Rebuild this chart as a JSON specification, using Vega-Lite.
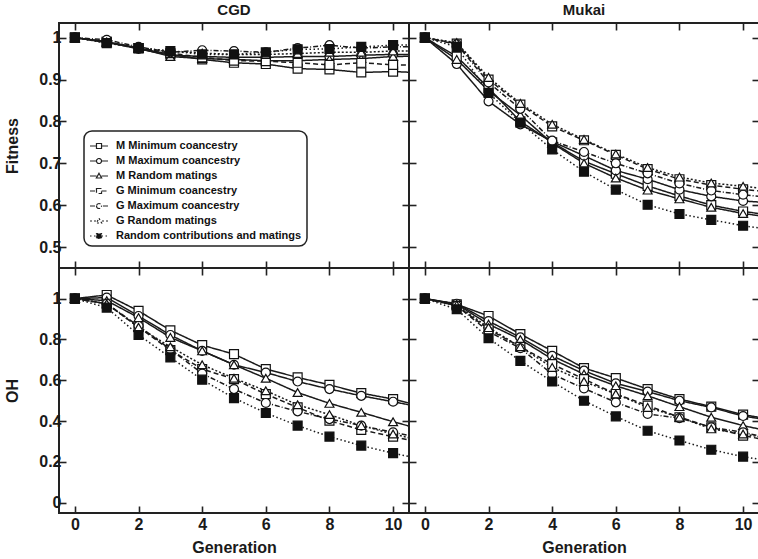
{
"$schema": "https://vega.github.io/schema/vega-lite/v6.json",
"padding": {"left": 3, "top": 2, "right": 0, "bottom": 0},
"spacing": 0,
"bounds": "flush",
"columns": 2,
"config": {
  "font": "Liberation Sans",
  "view": {"stroke": "#222", "strokeWidth": 2},
  "concat": {"spacing": 0},
  "axis": {"domain": false, "grid": false, "tickSize": -7, "tickWidth": 1.6, "tickColor": "#222", "labelFont": "Liberation Sans", "labelFontSize": 16, "labelFontWeight": "bold", "labelColor": "#1a1a1a", "titleFont": "Liberation Sans", "titleFontSize": 16, "titleFontWeight": "bold", "titleColor": "#1a1a1a", "labelPadding": 5, "minExtent": 0},
  "axisY": {"titlePadding": 18}
},
"datasets": {
"cgdF": [
{"s":"M Minimum coancestry","g":0,"v":1},{"s":"M Minimum coancestry","g":1,"v":0.990},{"s":"M Minimum coancestry","g":2,"v":0.975},{"s":"M Minimum coancestry","g":3,"v":0.960},{"s":"M Minimum coancestry","g":4,"v":0.948},{"s":"M Minimum coancestry","g":5,"v":0.940},{"s":"M Minimum coancestry","g":6,"v":0.937},{"s":"M Minimum coancestry","g":7,"v":0.926},{"s":"M Minimum coancestry","g":8,"v":0.924},{"s":"M Minimum coancestry","g":9,"v":0.917},{"s":"M Minimum coancestry","g":10,"v":0.919},{"s":"M Minimum coancestry","g":11,"v":0.916},
{"s":"M Maximum coancestry","g":0,"v":1},{"s":"M Maximum coancestry","g":1,"v":0.990},{"s":"M Maximum coancestry","g":2,"v":0.973},{"s":"M Maximum coancestry","g":3,"v":0.958},{"s":"M Maximum coancestry","g":4,"v":0.955},{"s":"M Maximum coancestry","g":5,"v":0.953},{"s":"M Maximum coancestry","g":6,"v":0.953},{"s":"M Maximum coancestry","g":7,"v":0.955},{"s":"M Maximum coancestry","g":8,"v":0.955},{"s":"M Maximum coancestry","g":9,"v":0.958},{"s":"M Maximum coancestry","g":10,"v":0.960},{"s":"M Maximum coancestry","g":11,"v":0.960},
{"s":"M Random matings","g":0,"v":1},{"s":"M Random matings","g":1,"v":0.988},{"s":"M Random matings","g":2,"v":0.975},{"s":"M Random matings","g":3,"v":0.955},{"s":"M Random matings","g":4,"v":0.950},{"s":"M Random matings","g":5,"v":0.948},{"s":"M Random matings","g":6,"v":0.945},{"s":"M Random matings","g":7,"v":0.945},{"s":"M Random matings","g":8,"v":0.948},{"s":"M Random matings","g":9,"v":0.950},{"s":"M Random matings","g":10,"v":0.955},{"s":"M Random matings","g":11,"v":0.956},
{"s":"G Minimum coancestry","g":0,"v":1},{"s":"G Minimum coancestry","g":1,"v":0.990},{"s":"G Minimum coancestry","g":2,"v":0.975},{"s":"G Minimum coancestry","g":3,"v":0.963},{"s":"G Minimum coancestry","g":4,"v":0.953},{"s":"G Minimum coancestry","g":5,"v":0.945},{"s":"G Minimum coancestry","g":6,"v":0.944},{"s":"G Minimum coancestry","g":7,"v":0.940},{"s":"G Minimum coancestry","g":8,"v":0.935},{"s":"G Minimum coancestry","g":9,"v":0.940},{"s":"G Minimum coancestry","g":10,"v":0.935},{"s":"G Minimum coancestry","g":11,"v":0.934},
{"s":"G Maximum coancestry","g":0,"v":1},{"s":"G Maximum coancestry","g":1,"v":0.995},{"s":"G Maximum coancestry","g":2,"v":0.978},{"s":"G Maximum coancestry","g":3,"v":0.965},{"s":"G Maximum coancestry","g":4,"v":0.970},{"s":"G Maximum coancestry","g":5,"v":0.968},{"s":"G Maximum coancestry","g":6,"v":0.965},{"s":"G Maximum coancestry","g":7,"v":0.975},{"s":"G Maximum coancestry","g":8,"v":0.982},{"s":"G Maximum coancestry","g":9,"v":0.975},{"s":"G Maximum coancestry","g":10,"v":0.978},{"s":"G Maximum coancestry","g":11,"v":0.978},
{"s":"G Random matings","g":0,"v":1},{"s":"G Random matings","g":1,"v":0.990},{"s":"G Random matings","g":2,"v":0.975},{"s":"G Random matings","g":3,"v":0.968},{"s":"G Random matings","g":4,"v":0.963},{"s":"G Random matings","g":5,"v":0.960},{"s":"G Random matings","g":6,"v":0.960},{"s":"G Random matings","g":7,"v":0.962},{"s":"G Random matings","g":8,"v":0.965},{"s":"G Random matings","g":9,"v":0.965},{"s":"G Random matings","g":10,"v":0.968},{"s":"G Random matings","g":11,"v":0.968},
{"s":"Random contributions and matings","g":0,"v":1},{"s":"Random contributions and matings","g":1,"v":0.987},{"s":"Random contributions and matings","g":2,"v":0.975},{"s":"Random contributions and matings","g":3,"v":0.968},{"s":"Random contributions and matings","g":4,"v":0.960},{"s":"Random contributions and matings","g":5,"v":0.960},{"s":"Random contributions and matings","g":6,"v":0.965},{"s":"Random contributions and matings","g":7,"v":0.972},{"s":"Random contributions and matings","g":8,"v":0.973},{"s":"Random contributions and matings","g":9,"v":0.978},{"s":"Random contributions and matings","g":10,"v":0.982},{"s":"Random contributions and matings","g":11,"v":0.983}
],
"mukF": [
{"s":"M Minimum coancestry","g":0,"v":1},{"s":"M Minimum coancestry","g":1,"v":0.955},{"s":"M Minimum coancestry","g":2,"v":0.880},{"s":"M Minimum coancestry","g":3,"v":0.800},{"s":"M Minimum coancestry","g":4,"v":0.750},{"s":"M Minimum coancestry","g":5,"v":0.705},{"s":"M Minimum coancestry","g":6,"v":0.675},{"s":"M Minimum coancestry","g":7,"v":0.646},{"s":"M Minimum coancestry","g":8,"v":0.622},{"s":"M Minimum coancestry","g":9,"v":0.600},{"s":"M Minimum coancestry","g":10,"v":0.585},{"s":"M Minimum coancestry","g":11,"v":0.575},
{"s":"M Maximum coancestry","g":0,"v":1},{"s":"M Maximum coancestry","g":1,"v":0.937},{"s":"M Maximum coancestry","g":2,"v":0.848},{"s":"M Maximum coancestry","g":3,"v":0.793},{"s":"M Maximum coancestry","g":4,"v":0.752},{"s":"M Maximum coancestry","g":5,"v":0.718},{"s":"M Maximum coancestry","g":6,"v":0.683},{"s":"M Maximum coancestry","g":7,"v":0.662},{"s":"M Maximum coancestry","g":8,"v":0.637},{"s":"M Maximum coancestry","g":9,"v":0.621},{"s":"M Maximum coancestry","g":10,"v":0.610},{"s":"M Maximum coancestry","g":11,"v":0.605},
{"s":"M Random matings","g":0,"v":1},{"s":"M Random matings","g":1,"v":0.948},{"s":"M Random matings","g":2,"v":0.873},{"s":"M Random matings","g":3,"v":0.815},{"s":"M Random matings","g":4,"v":0.748},{"s":"M Random matings","g":5,"v":0.700},{"s":"M Random matings","g":6,"v":0.665},{"s":"M Random matings","g":7,"v":0.636},{"s":"M Random matings","g":8,"v":0.615},{"s":"M Random matings","g":9,"v":0.595},{"s":"M Random matings","g":10,"v":0.580},{"s":"M Random matings","g":11,"v":0.570},
{"s":"G Minimum coancestry","g":0,"v":1},{"s":"G Minimum coancestry","g":1,"v":0.986},{"s":"G Minimum coancestry","g":2,"v":0.900},{"s":"G Minimum coancestry","g":3,"v":0.840},{"s":"G Minimum coancestry","g":4,"v":0.788},{"s":"G Minimum coancestry","g":5,"v":0.755},{"s":"G Minimum coancestry","g":6,"v":0.720},{"s":"G Minimum coancestry","g":7,"v":0.686},{"s":"G Minimum coancestry","g":8,"v":0.662},{"s":"G Minimum coancestry","g":9,"v":0.648},{"s":"G Minimum coancestry","g":10,"v":0.638},{"s":"G Minimum coancestry","g":11,"v":0.630},
{"s":"G Maximum coancestry","g":0,"v":1},{"s":"G Maximum coancestry","g":1,"v":0.984},{"s":"G Maximum coancestry","g":2,"v":0.893},{"s":"G Maximum coancestry","g":3,"v":0.830},{"s":"G Maximum coancestry","g":4,"v":0.754},{"s":"G Maximum coancestry","g":5,"v":0.727},{"s":"G Maximum coancestry","g":6,"v":0.700},{"s":"G Maximum coancestry","g":7,"v":0.676},{"s":"G Maximum coancestry","g":8,"v":0.652},{"s":"G Maximum coancestry","g":9,"v":0.635},{"s":"G Maximum coancestry","g":10,"v":0.625},{"s":"G Maximum coancestry","g":11,"v":0.617},
{"s":"G Random matings","g":0,"v":1},{"s":"G Random matings","g":1,"v":0.988},{"s":"G Random matings","g":2,"v":0.905},{"s":"G Random matings","g":3,"v":0.843},{"s":"G Random matings","g":4,"v":0.793},{"s":"G Random matings","g":5,"v":0.757},{"s":"G Random matings","g":6,"v":0.722},{"s":"G Random matings","g":7,"v":0.690},{"s":"G Random matings","g":8,"v":0.667},{"s":"G Random matings","g":9,"v":0.653},{"s":"G Random matings","g":10,"v":0.645},{"s":"G Random matings","g":11,"v":0.637},
{"s":"Random contributions and matings","g":0,"v":1},{"s":"Random contributions and matings","g":1,"v":0.978},{"s":"Random contributions and matings","g":2,"v":0.868},{"s":"Random contributions and matings","g":3,"v":0.797},{"s":"Random contributions and matings","g":4,"v":0.733},{"s":"Random contributions and matings","g":5,"v":0.680},{"s":"Random contributions and matings","g":6,"v":0.637},{"s":"Random contributions and matings","g":7,"v":0.601},{"s":"Random contributions and matings","g":8,"v":0.579},{"s":"Random contributions and matings","g":9,"v":0.565},{"s":"Random contributions and matings","g":10,"v":0.551},{"s":"Random contributions and matings","g":11,"v":0.540}
],
"cgdO": [
{"s":"M Minimum coancestry","g":0,"v":1},{"s":"M Minimum coancestry","g":1,"v":1.018},{"s":"M Minimum coancestry","g":2,"v":0.940},{"s":"M Minimum coancestry","g":3,"v":0.845},{"s":"M Minimum coancestry","g":4,"v":0.772},{"s":"M Minimum coancestry","g":5,"v":0.728},{"s":"M Minimum coancestry","g":6,"v":0.655},{"s":"M Minimum coancestry","g":7,"v":0.614},{"s":"M Minimum coancestry","g":8,"v":0.578},{"s":"M Minimum coancestry","g":9,"v":0.537},{"s":"M Minimum coancestry","g":10,"v":0.508},{"s":"M Minimum coancestry","g":11,"v":0.470},
{"s":"M Maximum coancestry","g":0,"v":1},{"s":"M Maximum coancestry","g":1,"v":1.005},{"s":"M Maximum coancestry","g":2,"v":0.915},{"s":"M Maximum coancestry","g":3,"v":0.822},{"s":"M Maximum coancestry","g":4,"v":0.744},{"s":"M Maximum coancestry","g":5,"v":0.676},{"s":"M Maximum coancestry","g":6,"v":0.638},{"s":"M Maximum coancestry","g":7,"v":0.594},{"s":"M Maximum coancestry","g":8,"v":0.557},{"s":"M Maximum coancestry","g":9,"v":0.524},{"s":"M Maximum coancestry","g":10,"v":0.495},{"s":"M Maximum coancestry","g":11,"v":0.465},
{"s":"M Random matings","g":0,"v":1},{"s":"M Random matings","g":1,"v":0.990},{"s":"M Random matings","g":2,"v":0.907},{"s":"M Random matings","g":3,"v":0.810},{"s":"M Random matings","g":4,"v":0.744},{"s":"M Random matings","g":5,"v":0.676},{"s":"M Random matings","g":6,"v":0.610},{"s":"M Random matings","g":7,"v":0.540},{"s":"M Random matings","g":8,"v":0.487},{"s":"M Random matings","g":9,"v":0.443},{"s":"M Random matings","g":10,"v":0.397},{"s":"M Random matings","g":11,"v":0.355},
{"s":"G Minimum coancestry","g":0,"v":1},{"s":"G Minimum coancestry","g":1,"v":0.975},{"s":"G Minimum coancestry","g":2,"v":0.860},{"s":"G Minimum coancestry","g":3,"v":0.748},{"s":"G Minimum coancestry","g":4,"v":0.655},{"s":"G Minimum coancestry","g":5,"v":0.606},{"s":"G Minimum coancestry","g":6,"v":0.532},{"s":"G Minimum coancestry","g":7,"v":0.467},{"s":"G Minimum coancestry","g":8,"v":0.402},{"s":"G Minimum coancestry","g":9,"v":0.357},{"s":"G Minimum coancestry","g":10,"v":0.324},{"s":"G Minimum coancestry","g":11,"v":0.290},
{"s":"G Maximum coancestry","g":0,"v":1},{"s":"G Maximum coancestry","g":1,"v":0.975},{"s":"G Maximum coancestry","g":2,"v":0.866},{"s":"G Maximum coancestry","g":3,"v":0.752},{"s":"G Maximum coancestry","g":4,"v":0.633},{"s":"G Maximum coancestry","g":5,"v":0.557},{"s":"G Maximum coancestry","g":6,"v":0.489},{"s":"G Maximum coancestry","g":7,"v":0.448},{"s":"G Maximum coancestry","g":8,"v":0.410},{"s":"G Maximum coancestry","g":9,"v":0.378},{"s":"G Maximum coancestry","g":10,"v":0.345},{"s":"G Maximum coancestry","g":11,"v":0.315},
{"s":"G Random matings","g":0,"v":1},{"s":"G Random matings","g":1,"v":0.975},{"s":"G Random matings","g":2,"v":0.860},{"s":"G Random matings","g":3,"v":0.764},{"s":"G Random matings","g":4,"v":0.676},{"s":"G Random matings","g":5,"v":0.610},{"s":"G Random matings","g":6,"v":0.549},{"s":"G Random matings","g":7,"v":0.480},{"s":"G Random matings","g":8,"v":0.432},{"s":"G Random matings","g":9,"v":0.378},{"s":"G Random matings","g":10,"v":0.337},{"s":"G Random matings","g":11,"v":0.300},
{"s":"Random contributions and matings","g":0,"v":1},{"s":"Random contributions and matings","g":1,"v":0.956},{"s":"Random contributions and matings","g":2,"v":0.822},{"s":"Random contributions and matings","g":3,"v":0.712},{"s":"Random contributions and matings","g":4,"v":0.603},{"s":"Random contributions and matings","g":5,"v":0.513},{"s":"Random contributions and matings","g":6,"v":0.440},{"s":"Random contributions and matings","g":7,"v":0.378},{"s":"Random contributions and matings","g":8,"v":0.324},{"s":"Random contributions and matings","g":9,"v":0.280},{"s":"Random contributions and matings","g":10,"v":0.243},{"s":"Random contributions and matings","g":11,"v":0.210}
],
"mukO": [
{"s":"M Minimum coancestry","g":0,"v":1},{"s":"M Minimum coancestry","g":1,"v":0.972},{"s":"M Minimum coancestry","g":2,"v":0.915},{"s":"M Minimum coancestry","g":3,"v":0.826},{"s":"M Minimum coancestry","g":4,"v":0.744},{"s":"M Minimum coancestry","g":5,"v":0.660},{"s":"M Minimum coancestry","g":6,"v":0.611},{"s":"M Minimum coancestry","g":7,"v":0.557},{"s":"M Minimum coancestry","g":8,"v":0.508},{"s":"M Minimum coancestry","g":9,"v":0.471},{"s":"M Minimum coancestry","g":10,"v":0.432},{"s":"M Minimum coancestry","g":11,"v":0.405},
{"s":"M Maximum coancestry","g":0,"v":1},{"s":"M Maximum coancestry","g":1,"v":0.975},{"s":"M Maximum coancestry","g":2,"v":0.890},{"s":"M Maximum coancestry","g":3,"v":0.810},{"s":"M Maximum coancestry","g":4,"v":0.720},{"s":"M Maximum coancestry","g":5,"v":0.647},{"s":"M Maximum coancestry","g":6,"v":0.585},{"s":"M Maximum coancestry","g":7,"v":0.545},{"s":"M Maximum coancestry","g":8,"v":0.500},{"s":"M Maximum coancestry","g":9,"v":0.467},{"s":"M Maximum coancestry","g":10,"v":0.425},{"s":"M Maximum coancestry","g":11,"v":0.400},
{"s":"M Random matings","g":0,"v":1},{"s":"M Random matings","g":1,"v":0.972},{"s":"M Random matings","g":2,"v":0.875},{"s":"M Random matings","g":3,"v":0.800},{"s":"M Random matings","g":4,"v":0.704},{"s":"M Random matings","g":5,"v":0.630},{"s":"M Random matings","g":6,"v":0.573},{"s":"M Random matings","g":7,"v":0.524},{"s":"M Random matings","g":8,"v":0.471},{"s":"M Random matings","g":9,"v":0.419},{"s":"M Random matings","g":10,"v":0.378},{"s":"M Random matings","g":11,"v":0.345},
{"s":"G Minimum coancestry","g":0,"v":1},{"s":"G Minimum coancestry","g":1,"v":0.965},{"s":"G Minimum coancestry","g":2,"v":0.850},{"s":"G Minimum coancestry","g":3,"v":0.764},{"s":"G Minimum coancestry","g":4,"v":0.679},{"s":"G Minimum coancestry","g":5,"v":0.606},{"s":"G Minimum coancestry","g":6,"v":0.533},{"s":"G Minimum coancestry","g":7,"v":0.476},{"s":"G Minimum coancestry","g":8,"v":0.419},{"s":"G Minimum coancestry","g":9,"v":0.370},{"s":"G Minimum coancestry","g":10,"v":0.329},{"s":"G Minimum coancestry","g":11,"v":0.300},
{"s":"G Maximum coancestry","g":0,"v":1},{"s":"G Maximum coancestry","g":1,"v":0.965},{"s":"G Maximum coancestry","g":2,"v":0.839},{"s":"G Maximum coancestry","g":3,"v":0.757},{"s":"G Maximum coancestry","g":4,"v":0.630},{"s":"G Maximum coancestry","g":5,"v":0.560},{"s":"G Maximum coancestry","g":6,"v":0.492},{"s":"G Maximum coancestry","g":7,"v":0.435},{"s":"G Maximum coancestry","g":8,"v":0.415},{"s":"G Maximum coancestry","g":9,"v":0.370},{"s":"G Maximum coancestry","g":10,"v":0.345},{"s":"G Maximum coancestry","g":11,"v":0.310},
{"s":"G Random matings","g":0,"v":1},{"s":"G Random matings","g":1,"v":0.968},{"s":"G Random matings","g":2,"v":0.858},{"s":"G Random matings","g":3,"v":0.764},{"s":"G Random matings","g":4,"v":0.663},{"s":"G Random matings","g":5,"v":0.594},{"s":"G Random matings","g":6,"v":0.533},{"s":"G Random matings","g":7,"v":0.467},{"s":"G Random matings","g":8,"v":0.419},{"s":"G Random matings","g":9,"v":0.362},{"s":"G Random matings","g":10,"v":0.337},{"s":"G Random matings","g":11,"v":0.310},
{"s":"Random contributions and matings","g":0,"v":1},{"s":"Random contributions and matings","g":1,"v":0.948},{"s":"Random contributions and matings","g":2,"v":0.806},{"s":"Random contributions and matings","g":3,"v":0.695},{"s":"Random contributions and matings","g":4,"v":0.594},{"s":"Random contributions and matings","g":5,"v":0.500},{"s":"Random contributions and matings","g":6,"v":0.423},{"s":"Random contributions and matings","g":7,"v":0.353},{"s":"Random contributions and matings","g":8,"v":0.305},{"s":"Random contributions and matings","g":9,"v":0.260},{"s":"Random contributions and matings","g":10,"v":0.226},{"s":"Random contributions and matings","g":11,"v":0.200}
]
},
"concat": [
{
 "width": 350, "height": 245,
 "title": {"text": "CGD", "fontSize": 15, "fontWeight": "bold", "font": "Liberation Sans", "color": "#1a1a1a", "offset": 4},
 "data": {"name": "cgdF"},
 "layer": [
  {"mark": {"type": "line", "strokeWidth": 1.5, "color": "#1a1a1a", "clip": true},
   "encoding": {
    "x": {"field": "g", "type": "quantitative", "scale": {"domain": [-0.5, 10.5], "nice": false, "zero": false}, "axis": {"orient": "bottom", "values": [0,2,4,6,8,10], "labels": false, "title": null}},
    "y": {"field": "v", "type": "quantitative", "scale": {"domain": [0.45, 1.035], "nice": false, "zero": false}, "axis": {"orient": "left", "values": [0.5,0.6,0.7,0.8,0.9,1], "format": "~g", "title": "Fitness"}},
    "detail": {"field": "s"},
    "strokeDash": {"field": "s", "type": "nominal",
      "scale": {"domain": ["M Minimum coancestry","M Maximum coancestry","M Random matings","G Minimum coancestry","G Maximum coancestry","G Random matings","Random contributions and matings"], "range": [[1,0],[1,0],[1,0],[5,3],[5,2,1,2],[2,2],[1.5,2.5]]},
      "legend": {"orient": "none", "legendX": 25, "legendY": 108, "title": null, "strokeColor": "#222", "cornerRadius": 8, "fillColor": "white", "padding": 5, "symbolSize": 324, "symbolStrokeWidth": 1.2, "symbolStrokeColor": "#222", "labelFont": "Liberation Sans", "labelFontSize": 11, "labelFontWeight": "bold", "labelColor": "#111", "labelOffset": 7, "rowPadding": -2, "labelLimit": 300,
        "encode": {
          "symbols": {"update": {
            "shape": {"signal": "indexof(datum.value, 'Maximum') >= 0 ? 'M-1,0H-0.28M1,0H0.28M-0.28,0A0.28,0.28,0,1,0,0.28,0A0.28,0.28,0,1,0,-0.28,0Z' : (indexof(datum.value, 'Random matings') >= 0 ? 'M-1,0H-0.27M1,0H0.27M0,-0.3L0.29,0.22H-0.29Z' : 'M-1,0H-0.28M0.28,0H1M-0.28,-0.28H0.28V0.28H-0.28Z')"},
            "fill": {"signal": "datum.value === 'Random contributions and matings' ? '#111' : 'white'"},
            "stroke": {"value": "#222"},
            "strokeWidth": {"value": 1.2},
            "opacity": {"value": 1}
          }},
          "legend": {"update": {"strokeWidth": {"value": 1.5}}}
        }
      }}
   }},
  {"transform": [{"filter": "datum.g <= 10"}],
   "mark": {"type": "point", "size": 80, "strokeWidth": 1.2, "stroke": "#111", "opacity": 1},
   "encoding": {
    "x": {"field": "g", "type": "quantitative", "axis": {"orient": "top", "values": [0,2,4,6,8,10], "labels": false, "title": null}},
    "y": {"field": "v", "type": "quantitative", "axis": {"orient": "right", "values": [0.5,0.6,0.7,0.8,0.9,1], "labels": false, "title": null}},
    "shape": {"condition": [{"test": "indexof(datum.s, 'Maximum') >= 0", "value": "circle"}, {"test": "indexof(datum.s, 'Random matings') >= 0", "value": "triangle-up"}], "value": "square"},
    "fill": {"condition": {"test": "datum.s === 'Random contributions and matings'", "value": "#111"}, "value": "white"}
   }}
 ],
 "resolve": {"axis": {"x": "independent", "y": "independent"}}
},
{
 "width": 350, "height": 245,
 "title": {"text": "Mukai", "fontSize": 15, "fontWeight": "bold", "font": "Liberation Sans", "color": "#1a1a1a", "offset": 4},
 "data": {"name": "mukF"},
 "layer": [
  {"mark": {"type": "line", "strokeWidth": 1.5, "color": "#1a1a1a", "clip": true},
   "encoding": {
    "x": {"field": "g", "type": "quantitative", "scale": {"domain": [-0.5, 10.5], "nice": false, "zero": false}, "axis": {"orient": "bottom", "values": [0,2,4,6,8,10], "labels": false, "title": null}},
    "y": {"field": "v", "type": "quantitative", "scale": {"domain": [0.45, 1.035], "nice": false, "zero": false}, "axis": {"orient": "left", "values": [0.5,0.6,0.7,0.8,0.9,1], "labels": false, "title": null}},
    "detail": {"field": "s"},
    "strokeDash": {"field": "s", "type": "nominal",
      "scale": {"domain": ["M Minimum coancestry","M Maximum coancestry","M Random matings","G Minimum coancestry","G Maximum coancestry","G Random matings","Random contributions and matings"], "range": [[1,0],[1,0],[1,0],[5,3],[5,2,1,2],[2,2],[1.5,2.5]]},
      "legend": null}
   }},
  {"transform": [{"filter": "datum.g <= 10"}],
   "mark": {"type": "point", "size": 80, "strokeWidth": 1.2, "stroke": "#111", "opacity": 1},
   "encoding": {
    "x": {"field": "g", "type": "quantitative", "axis": {"orient": "top", "values": [0,2,4,6,8,10], "labels": false, "title": null}},
    "y": {"field": "v", "type": "quantitative", "axis": {"orient": "right", "values": [0.5,0.6,0.7,0.8,0.9,1], "labels": false, "title": null}},
    "shape": {"condition": [{"test": "indexof(datum.s, 'Maximum') >= 0", "value": "circle"}, {"test": "indexof(datum.s, 'Random matings') >= 0", "value": "triangle-up"}], "value": "square"},
    "fill": {"condition": {"test": "datum.s === 'Random contributions and matings'", "value": "#111"}, "value": "white"}
   }}
 ],
 "resolve": {"axis": {"x": "independent", "y": "independent"}}
},
{
 "width": 350, "height": 245,
 "data": {"name": "cgdO"},
 "layer": [
  {"mark": {"type": "line", "strokeWidth": 1.5, "color": "#1a1a1a", "clip": true},
   "encoding": {
    "x": {"field": "g", "type": "quantitative", "scale": {"domain": [-0.5, 10.5], "nice": false, "zero": false}, "axis": {"orient": "bottom", "values": [0,2,4,6,8,10], "title": "Generation", "labelPadding": 10, "titlePadding": 7}},
    "y": {"field": "v", "type": "quantitative", "scale": {"domain": [-0.05, 1.15], "nice": false, "zero": false}, "axis": {"orient": "left", "values": [0,0.2,0.4,0.6,0.8,1], "format": "~g", "title": "OH"}},
    "detail": {"field": "s"},
    "strokeDash": {"field": "s", "type": "nominal",
      "scale": {"domain": ["M Minimum coancestry","M Maximum coancestry","M Random matings","G Minimum coancestry","G Maximum coancestry","G Random matings","Random contributions and matings"], "range": [[1,0],[1,0],[1,0],[5,3],[5,2,1,2],[2,2],[1.5,2.5]]},
      "legend": null}
   }},
  {"transform": [{"filter": "datum.g <= 10"}],
   "mark": {"type": "point", "size": 80, "strokeWidth": 1.2, "stroke": "#111", "opacity": 1},
   "encoding": {
    "x": {"field": "g", "type": "quantitative", "axis": {"orient": "top", "values": [0,2,4,6,8,10], "labels": false, "title": null}},
    "y": {"field": "v", "type": "quantitative", "axis": {"orient": "right", "values": [0,0.2,0.4,0.6,0.8,1], "labels": false, "title": null}},
    "shape": {"condition": [{"test": "indexof(datum.s, 'Maximum') >= 0", "value": "circle"}, {"test": "indexof(datum.s, 'Random matings') >= 0", "value": "triangle-up"}], "value": "square"},
    "fill": {"condition": {"test": "datum.s === 'Random contributions and matings'", "value": "#111"}, "value": "white"}
   }}
 ],
 "resolve": {"axis": {"x": "independent", "y": "independent"}}
},
{
 "width": 350, "height": 245,
 "data": {"name": "mukO"},
 "layer": [
  {"mark": {"type": "line", "strokeWidth": 1.5, "color": "#1a1a1a", "clip": true},
   "encoding": {
    "x": {"field": "g", "type": "quantitative", "scale": {"domain": [-0.5, 10.5], "nice": false, "zero": false}, "axis": {"orient": "bottom", "values": [0,2,4,6,8,10], "title": "Generation", "labelPadding": 10, "titlePadding": 7}},
    "y": {"field": "v", "type": "quantitative", "scale": {"domain": [-0.05, 1.15], "nice": false, "zero": false}, "axis": {"orient": "left", "values": [0,0.2,0.4,0.6,0.8,1], "labels": false, "title": null}},
    "detail": {"field": "s"},
    "strokeDash": {"field": "s", "type": "nominal",
      "scale": {"domain": ["M Minimum coancestry","M Maximum coancestry","M Random matings","G Minimum coancestry","G Maximum coancestry","G Random matings","Random contributions and matings"], "range": [[1,0],[1,0],[1,0],[5,3],[5,2,1,2],[2,2],[1.5,2.5]]},
      "legend": null}
   }},
  {"transform": [{"filter": "datum.g <= 10"}],
   "mark": {"type": "point", "size": 80, "strokeWidth": 1.2, "stroke": "#111", "opacity": 1},
   "encoding": {
    "x": {"field": "g", "type": "quantitative", "axis": {"orient": "top", "values": [0,2,4,6,8,10], "labels": false, "title": null}},
    "y": {"field": "v", "type": "quantitative", "axis": {"orient": "right", "values": [0,0.2,0.4,0.6,0.8,1], "labels": false, "title": null}},
    "shape": {"condition": [{"test": "indexof(datum.s, 'Maximum') >= 0", "value": "circle"}, {"test": "indexof(datum.s, 'Random matings') >= 0", "value": "triangle-up"}], "value": "square"},
    "fill": {"condition": {"test": "datum.s === 'Random contributions and matings'", "value": "#111"}, "value": "white"}
   }}
 ],
 "resolve": {"axis": {"x": "independent", "y": "independent"}}
}
]
}
